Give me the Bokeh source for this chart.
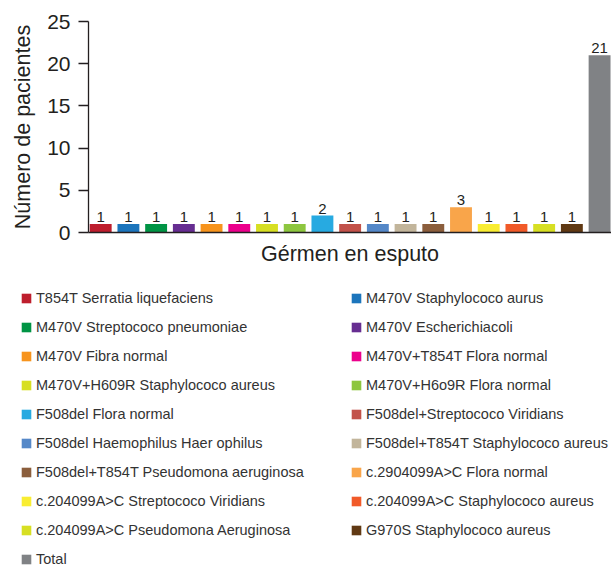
from bokeh.plotting import figure
from bokeh.layouts import column
from bokeh.models import ColumnDataSource, Range1d, FixedTicker, Legend, LegendItem
from bokeh.embed import file_html
from bokeh.resources import INLINE
from bokeh.core.properties import value

categories = [
    "T854T Serratia liquefaciens",
    "M470V Staphylococo aurus",
    "M470V Streptococo pneumoniae",
    "M470V Escherichiacoli",
    "M470V Fibra normal",
    "M470V+T854T Flora normal",
    "M470V+H609R Staphylococo aureus",
    "M470V+H6o9R Flora normal",
    "F508del Flora normal",
    "F508del+Streptococo Viridians",
    "F508del Haemophilus Haer ophilus",
    "F508del+T854T Staphylococo aureus",
    "F508del+T854T Pseudomona aeruginosa",
    "c.2904099A>C Flora normal",
    "c.204099A>C Streptococo Viridians",
    "c.204099A>C Staphylococo aureus",
    "c.204099A>C Pseudomona Aeruginosa",
    "G970S Staphylococo aureus",
    "Total",
]
counts = [1, 1, 1, 1, 1, 1, 1, 1, 2, 1, 1, 1, 1, 3, 1, 1, 1, 1, 21]
colors = [
    "#be1e2d", "#1c75bc", "#009444", "#662d91", "#f7941d", "#ec008c",
    "#d7df23", "#8dc63f", "#27aae1", "#c2524a", "#5588c8", "#c2b59b",
    "#8b5e3c", "#f9a54a", "#f9ed32", "#f15a29", "#d7df23", "#603913",
    "#808285",
]
y_ticks = [0, 5, 10, 15, 20, 25]

FONT = "Liberation Sans"
DARK = "#231f20"

src = ColumnDataSource(dict(
    x=list(range(len(categories))),
    counts=counts,
    colors=colors,
    lbl=[str(c) for c in counts],
    name=categories,
))

p = figure(width=611, height=270, output_backend="svg", toolbar_location=None,
           x_range=Range1d(-0.44, 18.43), y_range=Range1d(0, 25),
           min_border_left=88, min_border_right=0, min_border_top=21,
           min_border_bottom=38, frame_align=False)
p.outline_line_color = None
p.xgrid.visible = False
p.ygrid.visible = False

p.vbar(x="x", top="counts", width=0.79, source=src, fill_color="colors",
       line_color=None)

p.text(x="x", y="counts", text="lbl", source=src, text_align="center",
       text_baseline="alphabetic", y_offset=-7, text_font_size="15px",
       text_font=value(FONT), text_color=DARK)

# y axis
yax = p.yaxis[0]
yax.ticker = FixedTicker(ticks=y_ticks)
yax.minor_tick_line_color = None
yax.major_tick_in = 0
yax.major_tick_out = 10
yax.major_label_standoff = 8
yax.major_label_text_font = FONT
yax.major_label_text_font_size = "21px"
yax.major_label_text_color = DARK
yax.axis_line_color = DARK
yax.axis_line_width = 1.3
yax.major_tick_line_color = DARK
yax.major_tick_line_width = 1.3
yax.axis_label = "Número de pacientes"
yax.axis_label_text_font = FONT
yax.axis_label_text_font_size = "21.5px"
yax.axis_label_text_font_style = "normal"
yax.axis_label_text_color = DARK
yax.axis_label_standoff = 9

# x axis
xax = p.xaxis[0]
xax.ticker = FixedTicker(ticks=[])
xax.minor_tick_line_color = None
xax.major_tick_in = 0
xax.major_tick_out = 0
xax.major_label_standoff = 0
xax.axis_line_color = DARK
xax.axis_line_width = 1.3
xax.axis_label = "Gérmen en esputo"
xax.axis_label_text_font = FONT
xax.axis_label_text_font_size = "21.5px"
xax.axis_label_text_font_style = "normal"
xax.axis_label_text_color = DARK
xax.axis_label_standoff = 9

# legend figure
pl = figure(width=611, height=297, output_backend="svg", toolbar_location=None,
            x_range=Range1d(0, 611), y_range=Range1d(0, 297),
            x_axis_type=None, y_axis_type=None,
            min_border_left=0, min_border_right=0, min_border_top=0,
            min_border_bottom=0, frame_align=False)
pl.outline_line_color = None
pl.xgrid.visible = False
pl.ygrid.visible = False
rl = pl.vbar(x="x", top="counts", width=0.79, source=src, fill_color="colors",
             line_color=None, visible=False)

left_items = [LegendItem(label=categories[i], renderers=[rl], index=i)
              for i in range(0, len(categories), 2)]
right_items = [LegendItem(label=categories[i], renderers=[rl], index=i)
               for i in range(1, len(categories), 2)]

def make_legend(items, loc):
    return Legend(items=items, location=loc, orientation="vertical",
                  glyph_width=12, glyph_height=12, label_height=17,
                  label_standoff=4, spacing=12, padding=0, margin=0,
                  label_text_font=FONT, label_text_font_size="14.5px",
                  label_text_color="#333333",
                  border_line_color=None, background_fill_alpha=0)

pl.add_layout(make_legend(left_items, (20, 0)))
pl.add_layout(make_legend(right_items, (350, 29)))

layout = column(p, pl, spacing=0)
open("out.html", "w").write(file_html(layout, INLINE))
